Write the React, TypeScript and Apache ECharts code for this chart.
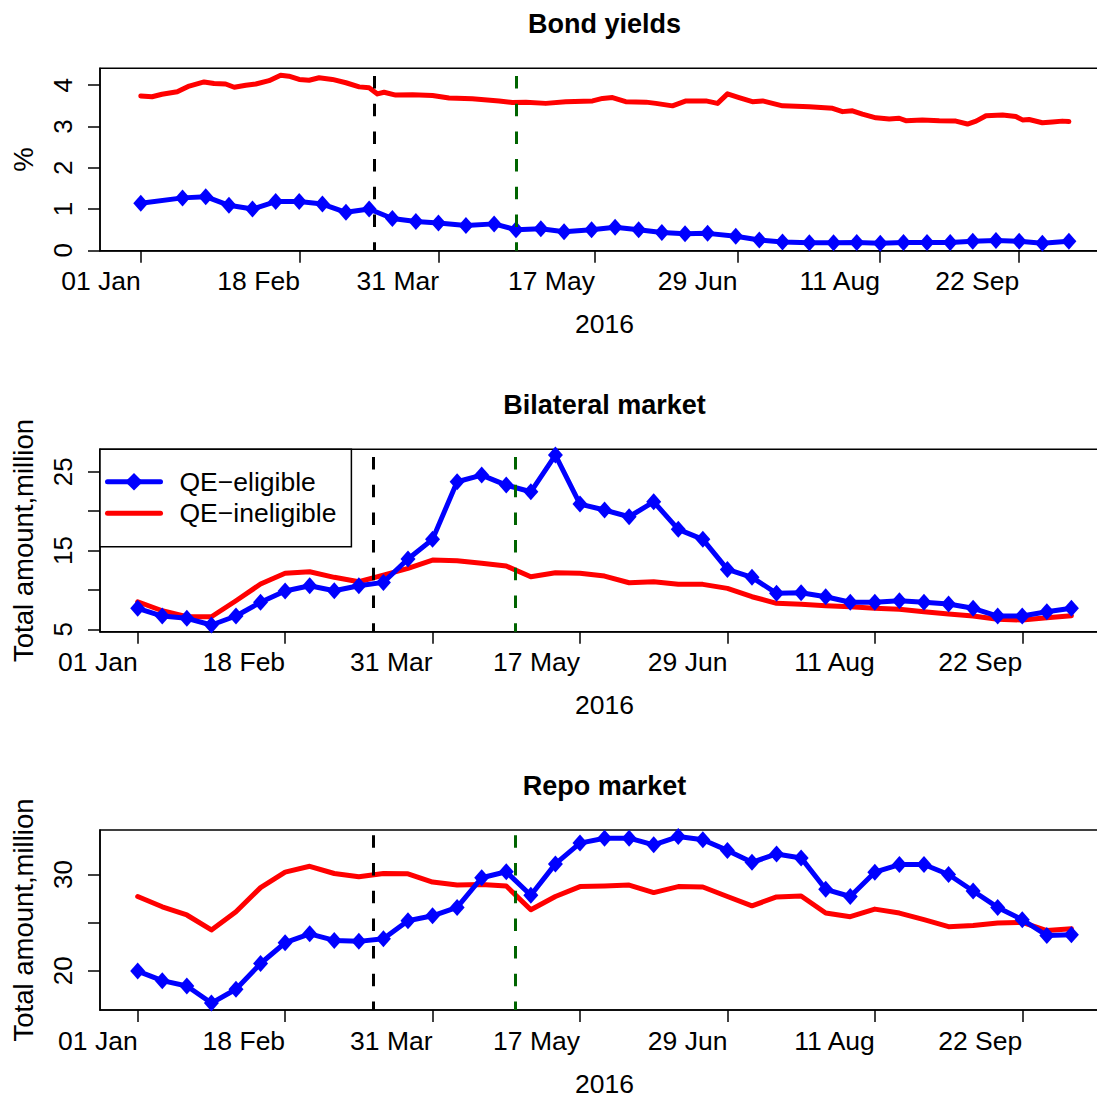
import React, { useEffect, useRef } from 'react';
import * as echarts from 'echarts';

const FONT = '"Liberation Sans", Arial, Helvetica, sans-serif';

// x tick labels (shared by all panels)
const tickLabels = ['01 Jan', '18 Feb', '31 Mar', '17 May', '29 Jun', '11 Aug', '22 Sep'];
// panel 1 is daily (days since 01 Jan 2016); panels 2-3 are observation index
const bondTickDays = [0, 48, 90, 137, 180, 223, 265];
const obsTickIdx = [0, 6, 12, 18, 24, 30, 36];

const bondYTicks = [0, 1, 2, 3, 4];
const bilatYTicks = [5, 10, 15, 20, 25];
const bilatYLabels = [5, 15, 25];
const repoYTicks = [20, 25, 30];
const repoYLabels = [20, 30];

// event lines
const bondEvents = [70.3, 113.2];
const obsEvents = [9.59, 15.38];

// Bond yields (%): [day, value]
const bondIneligible = [
  [0, 3.74], [3.4, 3.72], [6.4, 3.78], [11, 3.84], [14.6, 3.98], [19.1, 4.08], [22.1, 4.04], [25.6, 4.03],
  [28.2, 3.95], [31.7, 4.0], [34.7, 4.03], [38.7, 4.11], [42.2, 4.24], [44.7, 4.22], [47.8, 4.14], [50.8, 4.12],
  [53.8, 4.18], [57.8, 4.14], [61.9, 4.06], [65.9, 3.96], [68.9, 3.94], [71.4, 3.79], [73.4, 3.83], [76.9, 3.76],
  [82, 3.77], [88, 3.75], [93, 3.69], [100, 3.67], [108.1, 3.62], [112.1, 3.58], [116.2, 3.59], [122.2, 3.56],
  [128.2, 3.6], [136.3, 3.62], [139.3, 3.68], [142.3, 3.7], [146.3, 3.6], [152.4, 3.59], [155.4, 3.56], [160.4, 3.5],
  [164.5, 3.62], [170.5, 3.62], [174, 3.56], [177, 3.79], [180.5, 3.7], [184.5, 3.6], [187.6, 3.62], [193.6, 3.5],
  [201.7, 3.48], [208.7, 3.44], [211.7, 3.36], [214.7, 3.38], [217.7, 3.3], [221.8, 3.21], [225.8, 3.18], [228.8, 3.2],
  [230.8, 3.14], [235.8, 3.16], [240.9, 3.14], [245.9, 3.13], [249.4, 3.06], [252, 3.13], [255, 3.26], [260, 3.28],
  [264, 3.24], [266, 3.16], [268, 3.17], [272, 3.09], [275, 3.11], [278, 3.13], [280, 3.12],
];
const bondEligible = [
  [0, 1.14], [12.6, 1.27], [19.6, 1.3], [26.6, 1.09], [33.7, 1.0], [40.7, 1.18], [47.8, 1.18], [54.8, 1.12],
  [61.9, 0.92], [68.9, 1.0], [75.9, 0.77], [83, 0.7], [89.8, 0.66], [98.1, 0.6], [106.6, 0.64], [113.2, 0.5],
  [120.7, 0.52], [127.7, 0.45], [136, 0.5], [143.1, 0.56], [150.2, 0.5], [157.2, 0.43], [164.2, 0.4], [171, 0.41],
  [179.5, 0.34], [186.6, 0.25], [193.6, 0.2], [201.7, 0.18], [209, 0.18], [216, 0.19], [223.1, 0.17], [230.1, 0.19],
  [237.2, 0.19], [244.2, 0.19], [251, 0.22], [258, 0.24], [265, 0.22], [272, 0.17], [280, 0.22],
];

// Bilateral market (total amount, million), one value per observation
const bilatEligible = [
  7.67, 6.69, 6.4, 5.55, 6.69, 8.43, 9.86, 10.53, 9.9, 10.53, 10.96, 13.92, 16.42, 23.73, 24.58, 23.31,
  22.46, 27.12, 20.9, 20.14, 19.29, 21.19, 17.69, 16.42, 12.61, 11.6, 9.57, 9.65, 9.14, 8.43, 8.43, 8.63,
  8.43, 8.21, 7.67, 6.69, 6.69, 7.23, 7.67,
];
const bilatIneligible = [
  8.5, 7.36, 6.6, 6.6, 8.63, 10.75, 12.11, 12.31, 11.6, 11.04, 11.89, 12.74, 13.79, 13.71, 13.38, 13.03,
  11.68, 12.18, 12.11, 11.76, 10.91, 11.04, 10.71, 10.71, 10.2, 9.14, 8.3, 8.17, 8.0, 7.87, 7.67, 7.54,
  7.23, 6.94, 6.69, 6.27, 6.18, 6.47, 6.73,
];

// Repo market (total amount, million)
const repoEligible = [
  19.96, 18.97, 18.42, 16.64, 18.08, 20.75, 22.91, 23.83, 23.15, 23.05, 23.32, 25.2, 25.71, 26.58, 29.66, 30.28,
  27.84, 31.1, 33.26, 33.77, 33.77, 33.08, 33.94, 33.6, 32.5, 31.26, 32.13, 31.72, 28.46, 27.71, 30.24, 31.03,
  31.03, 30.0, 28.28, 26.58, 25.3, 23.66, 23.73,
];
const repoIneligible = [
  27.71, 26.64, 25.79, 24.24, 26.13, 28.63, 30.24, 30.85, 30.1, 29.76, 30.1, 30.07, 29.21, 28.9, 28.97, 28.8,
  26.33, 27.71, 28.74, 28.8, 28.9, 28.12, 28.74, 28.7, 27.71, 26.74, 27.67, 27.77, 25.99, 25.61, 26.4, 25.99,
  25.3, 24.58, 24.69, 24.96, 25.03, 24.17, 24.35,
];

const titles = ['Bond yields', 'Bilateral market', 'Repo market'];
const NAME_EL = 'QE\u2212eligible';
const NAME_IN = 'QE\u2212ineligible';

const GRID_LEFT = 100;
const GRID_W = 1009;
const GRID_H = 182.4;
const GRID_TOPS = [68.3, 449.3, 830];

function App() {
  const ref = useRef<HTMLDivElement>(null);

  useEffect(() => {
    if (!ref.current) return;
    const chart = echarts.init(ref.current, undefined, { renderer: 'svg' });

    const withIdx = (arr: number[]) => arr.map((v, i) => [i, v]);

    const axisLine = { show: true, onZero: false, lineStyle: { color: '#000', width: 1.5 } };

    const xAxisBase = (gridIndex: number, min: number, max: number, ticks: number[]) => ({
      type: 'value',
      gridIndex,
      min,
      max,
      axisLine,
      splitLine: { show: false },
      axisTick: {
        show: true,
        inside: false,
        customValues: ticks,
        length: 12,
        lineStyle: { color: '#000', width: 1.5 },
      },
      axisLabel: {
        show: true,
        customValues: ticks,
        formatter: (v: number) => {
          const k = ticks.findIndex((t) => Math.abs(t - v) < 1e-6);
          return k >= 0 ? tickLabels[k] : '';
        },
        align: 'right',
        color: '#000',
        fontSize: 26.5,
        fontFamily: FONT,
        margin: 17,
      },
      name: '2016',
      nameLocation: 'middle',
      nameGap: 60,
      nameTextStyle: { color: '#000', fontSize: 26.5, fontFamily: FONT },
    });

    const yAxisBase = (gridIndex: number, min: number, max: number, ticks: number[], labels: number[], name: string) => ({
      type: 'value',
      gridIndex,
      min,
      max,
      axisLine,
      splitLine: { show: false },
      axisTick: {
        show: true,
        inside: false,
        customValues: ticks,
        length: 12,
        lineStyle: { color: '#000', width: 1.5 },
      },
      axisLabel: {
        customValues: labels,
        rotate: 90,
        color: '#000',
        fontSize: 26,
        fontFamily: FONT,
        margin: 24,
      },
      name,
      nameLocation: 'middle',
      nameRotate: 90,
      nameGap: 63,
      nameTextStyle: { color: '#000', fontSize: 27.5, fontFamily: FONT },
    });

    const eventLines = (vals: number[]) => ({
      silent: true,
      symbol: ['none', 'none'],
      label: { show: false },
      emphasis: { disabled: true },
      data: [
        { xAxis: vals[0], lineStyle: { color: '#000', width: 3, type: [12.5, 15.2], dashOffset: 3.7 } },
        { xAxis: vals[1], lineStyle: { color: '#006400', width: 3, type: [12.5, 15.2], dashOffset: 3.7 } },
      ],
    });

    const redSeries = (idx: number, data: number[][]) => ({
      type: 'line',
      name: NAME_IN,
      xAxisIndex: idx,
      yAxisIndex: idx,
      data,
      symbol: 'none',
      lineStyle: { color: '#ff0000', width: 5, cap: 'round', join: 'round' },
      itemStyle: { color: '#ff0000' },
      z: 2,
    });

    const blueSeries = (idx: number, data: number[][], events: number[]) => ({
      type: 'line',
      name: NAME_EL,
      xAxisIndex: idx,
      yAxisIndex: idx,
      data,
      symbol: 'diamond',
      symbolSize: [15, 17],
      showAllSymbol: true,
      lineStyle: { color: '#0000ff', width: 5, cap: 'round', join: 'round' },
      itemStyle: { color: '#0000ff', borderWidth: 0 },
      markLine: eventLines(events),
      z: 3,
    });

    const option = {
      animation: false,
      textStyle: { fontFamily: FONT, color: '#000' },
      title: titles.map((t, i) => ({
        text: t,
        left: GRID_LEFT + GRID_W / 2,
        top: GRID_TOPS[i] - 57.8,
        textAlign: 'center',
        padding: 0,
        textStyle: { fontSize: 27, fontWeight: 'bold', color: '#000', fontFamily: FONT },
      })),
      grid: GRID_TOPS.map((top) => ({
        left: GRID_LEFT,
        top,
        width: GRID_W,
        height: GRID_H,
        show: true,
        borderColor: '#000',
        borderWidth: 1.5,
        backgroundColor: 'transparent',
      })),
      legend: {
        orient: 'vertical',
        left: GRID_LEFT,
        top: GRID_TOPS[1],
        data: [{ name: NAME_EL }, { name: NAME_IN, itemStyle: { opacity: 0 } }],
        backgroundColor: '#fff',
        borderColor: '#000',
        borderWidth: 1.5,
        borderRadius: 0,
        padding: [19, 15, 20, 5],
        itemWidth: 53,
        itemHeight: 22,
        itemGap: 4.5,
        selectedMode: false,
        lineStyle: { width: 5 },
        textStyle: { fontSize: 26.5, color: '#000', fontFamily: FONT, padding: [0, 0, 0, 14] },
      },
      xAxis: [
        xAxisBase(0, -12.3, 292.1, bondTickDays),
        xAxisBase(1, -1.534, 39.53, obsTickIdx),
        xAxisBase(2, -1.534, 39.53, obsTickIdx),
      ],
      yAxis: [
        yAxisBase(0, -0.01, 4.41, bondYTicks, bondYTicks, '%'),
        yAxisBase(1, 4.7, 27.85, bilatYTicks, bilatYLabels, 'Total amount,million'),
        yAxisBase(2, 15.92, 34.62, repoYTicks, repoYLabels, 'Total amount,million'),
      ],
      series: [
        redSeries(0, bondIneligible),
        blueSeries(0, bondEligible, bondEvents),
        redSeries(1, withIdx(bilatIneligible)),
        blueSeries(1, withIdx(bilatEligible), obsEvents),
        redSeries(2, withIdx(repoIneligible)),
        blueSeries(2, withIdx(repoEligible), obsEvents),
      ],
    };

    chart.setOption(option as any);
    return () => chart.dispose();
  }, []);

  return (
    <div style={{ position: 'absolute', left: 0, top: 0, width: 1097, height: 1098, overflow: 'hidden', background: '#fff' }}>
      <div ref={ref} style={{ position: 'absolute', left: 0, top: 0, width: 1140, height: 1098 }} />
    </div>
  );
}

export default App;
